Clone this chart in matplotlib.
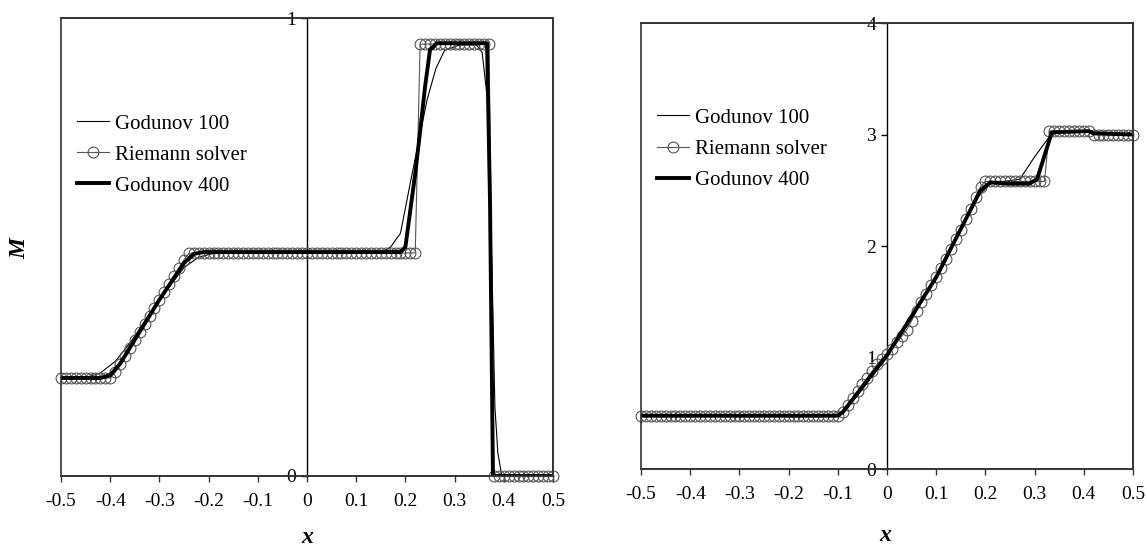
import matplotlib.pyplot as plt
import numpy as np
from matplotlib.patches import Rectangle

plt.rcParams['font.family'] = ['Liberation Serif', 'DejaVu Serif']

# exact (Riemann solver) samples, x = -0.50 ... 0.50 step 0.01
x_exact = np.round(np.arange(-50, 51) / 100.0, 2)

left_exact = ([0.214] * 11 +
              [0.226, 0.244, 0.262, 0.279, 0.297, 0.315, 0.332, 0.350,
               0.367, 0.385, 0.402, 0.420, 0.437, 0.455, 0.472, 0.486] +
              [0.487] * 46 +
              [0.943] * 15 +
              [0.0] * 13)

right_exact = ([0.478] * 41 +
               [0.51, 0.57, 0.635, 0.70, 0.76, 0.82, 0.88, 0.94, 0.99, 1.03,
                1.08, 1.14, 1.19, 1.25, 1.33, 1.42, 1.50, 1.57, 1.65, 1.72,
                1.80, 1.88, 1.97, 2.06, 2.14, 2.24, 2.33, 2.44, 2.53, 2.579] +
               [2.579] * 12 +
               [3.03] * 9 +
               [3.0] * 9)

# Godunov 100 (thin)
left_g100_x = [-0.5, -0.45, -0.42, -0.39, -0.36, -0.30, -0.25, -0.22, -0.19,
               0.15, 0.17, 0.19, 0.21, 0.225, 0.244, 0.262, 0.28, 0.31, 0.345,
               0.356, 0.368, 0.376, 0.382, 0.388, 0.396, 0.5]
left_g100_y = [0.214, 0.215, 0.225, 0.25, 0.29, 0.385, 0.455, 0.478, 0.486,
               0.487, 0.50, 0.53, 0.64, 0.72, 0.821, 0.89, 0.93, 0.941, 0.941,
               0.925, 0.81, 0.45, 0.15, 0.05, 0.0, 0.0]

right_g100_x = [-0.5, -0.12, -0.09, -0.06, 0.0, 0.1, 0.18, 0.21, 0.24, 0.27,
                0.30, 0.33, 0.35, 0.41, 0.44, 0.5]
right_g100_y = [0.478, 0.478, 0.50, 0.66, 1.03, 1.72, 2.42, 2.56, 2.58, 2.60,
                2.80, 2.98, 3.02, 3.03, 3.0, 3.0]

# Godunov 400 (thick)
left_g400_x = [-0.5, -0.42, -0.40, -0.38, -0.30, -0.25, -0.23, -0.21, 0.19,
               0.20, 0.21, 0.22, 0.228, 0.24, 0.25, 0.264, 0.366, 0.372, 0.378, 0.5]
left_g400_y = [0.214, 0.214, 0.22, 0.245, 0.385, 0.465, 0.485, 0.489, 0.489,
               0.50, 0.58, 0.66, 0.734, 0.85, 0.93, 0.945, 0.945, 0.6, 0.0, 0.0]

right_g400_x = [-0.5, -0.10, -0.09, 0.0, 0.1, 0.19, 0.21, 0.25, 0.29, 0.305,
                0.335, 0.41, 0.42, 0.5]
right_g400_y = [0.478, 0.478, 0.51, 1.02, 1.72, 2.50, 2.57, 2.56, 2.56, 2.60,
                3.02, 3.03, 3.01, 3.0]

x_ticks = [-0.5, -0.4, -0.3, -0.2, -0.1, 0, 0.1, 0.2, 0.3, 0.4, 0.5]
x_ticklabels = ['-0.5', '-0.4', '-0.3', '-0.2', '-0.1', '0', '0.1', '0.2', '0.3', '0.4', '0.5']

fig = plt.figure(figsize=(11.47, 5.49), dpi=100)
ax1 = fig.add_axes([0.0532, 0.1330, 0.4289, 0.8342])
ax2 = fig.add_axes([0.5589, 0.1457, 0.4289, 0.8124])

panels = [
    (ax1, left_exact, left_g100_x, left_g100_y, left_g400_x, left_g400_y,
     (0, 1), [0, 1], 0.701),
    (ax2, right_exact, right_g100_x, right_g100_y, right_g400_x, right_g400_y,
     (0, 4), [0, 1, 2, 3, 4], 0.7175),
]

for ax, ex, gx, gy, hx, hy, ylim, yt, leg_y in panels:
    ax.plot(gx, gy, color='black', lw=0.8, label='Godunov 100', zorder=3)
    ax.plot(x_exact, ex, color='#555555', lw=0.8, marker='o', ms=7.8,
            mfc='none', mec='#555555', mew=0.8, label='Riemann solver',
            clip_on=False, zorder=4)
    ax.plot(hx, hy, color='black', lw=2.8, label='Godunov 400', zorder=5)

    ax.set_xlim(-0.5, 0.5)
    ax.set_ylim(*ylim)
    ax.set_xticks(x_ticks)
    ax.set_xticklabels(x_ticklabels)
    ax.set_yticks(yt)
    ax.set_yticklabels([str(v) for v in yt])

    # y axis drawn at x = 0, box around the plot
    ax.spines['left'].set_position(('data', 0))
    ax.spines['left'].set_linewidth(1.0)
    ax.spines['left'].set_color('black')
    for s in ['top', 'right', 'bottom']:
        ax.spines[s].set_linewidth(1.2)
        ax.spines[s].set_color('#333333')
    ax.add_patch(Rectangle((0, 0), 1, 1, transform=ax.transAxes, fill=False,
                           lw=1.2, ec='#333333', clip_on=False, zorder=6))

    ax.tick_params(axis='x', direction='out', length=4, width=1, pad=8,
                   labelsize=14, color='#333333')
    ax.tick_params(axis='y', direction='out', length=4, width=1, pad=4,
                   labelsize=14)

    ax.legend(loc='center left', bbox_to_anchor=(0.0325, leg_y), frameon=False,
              fontsize=15, handlelength=1.55, handletextpad=0.27,
              borderpad=0, borderaxespad=0, labelspacing=0.55)

fig.text(0.268, 0.002, 'x', fontsize=17, fontweight='bold', style='italic',
         ha='center', va='bottom')
fig.text(0.7716, 0.024, 'x', fontsize=17, fontweight='bold', style='italic',
         ha='center', va='center')
fig.text(0.0175, 0.5465, 'M', fontsize=17, fontweight='bold', style='italic',
         ha='center', va='center', rotation=90)

fig.savefig('out.png', dpi=100)
